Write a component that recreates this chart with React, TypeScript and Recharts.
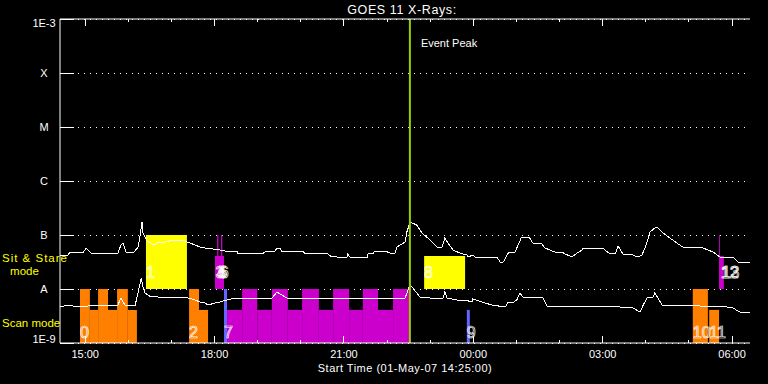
import React from 'react';
import {
  ComposedChart, Line, XAxis, YAxis, CartesianGrid, ReferenceArea, ReferenceLine,
} from 'recharts';

// ---- time axis (hours of 01-May-07, >24 = next day) ----
const START = 14 + 25 / 60;
const END = START + 16;
const hourTicks = [15, 16, 17, 18, 19, 20, 21, 22, 23, 24, 25, 26, 27, 28, 29, 30];
const fluxTicks = [1e-9, 1e-8, 1e-7, 1e-6, 1e-5, 1e-4, 1e-3];
const fluxTickLabels = ['1E-9', 'A', 'B', 'C', 'M', 'X', '1E-3'];
const eventPeak = 22.53;

// ---- GOES 11 long channel (1-8 A) ----
const longTime = [14.42, 14.60, 14.65, 14.95, 15.02, 15.14, 15.76, 15.83, 15.88, 15.95, 16.11, 16.23, 16.27, 16.32, 16.34, 16.39, 16.43, 16.53, 16.57, 16.62, 16.69, 16.74, 16.85, 17.04, 17.25, 17.43, 17.55, 17.66, 17.78, 17.96, 18.13, 18.24, 18.52, 18.54, 19.10, 19.17, 19.40, 19.45, 19.52, 19.56, 20.05, 20.10, 20.63, 20.72, 20.79, 20.84, 21.07, 21.09, 21.14, 21.54, 21.56, 21.67, 21.72, 21.95, 22.07, 22.18, 22.23, 22.42, 22.46, 22.53, 22.58, 22.69, 22.81, 23.00, 23.16, 23.27, 23.34, 23.41, 23.53, 23.69, 23.85, 23.88, 23.99, 24.04, 24.55, 24.62, 24.69, 24.74, 24.81, 24.97, 25.04, 25.11, 25.31, 25.38, 25.59, 25.66, 25.78, 25.94, 26.06, 26.13, 26.29, 26.41, 26.52, 26.54, 27.01, 27.05, 27.17, 27.29, 27.36, 27.47, 27.70, 27.82, 27.91, 27.98, 28.03, 28.10, 28.21, 28.28, 28.40, 28.56, 28.72, 28.86, 29.19, 29.33, 29.44, 29.56, 29.72, 30.02, 30.14, 30.42];
const longFlux = [4.26e-8, 4.26e-8, 4.84e-8, 4.64e-8, 5.74e-8, 4.64e-8, 4.64e-8, 6.53e-8, 7.11e-8, 4.84e-8, 4.64e-8, 5.99e-8, 9.18e-8, 1.74e-7, 1.09e-7, 9.18e-8, 7.74e-8, 7.11e-8, 6.53e-8, 6.53e-8, 7.41e-8, 7.11e-8, 7.41e-8, 8.08e-8, 8.08e-8, 7.11e-8, 6.53e-8, 5.99e-8, 5.74e-8, 5.5e-8, 5.27e-8, 5.05e-8, 5.05e-8, 4.45e-8, 4.45e-8, 4.84e-8, 5.05e-8, 5.74e-8, 5.74e-8, 5.05e-8, 5.05e-8, 4.45e-8, 4.45e-8, 3.91e-8, 4.08e-8, 3.91e-8, 3.91e-8, 4.45e-8, 3.91e-8, 3.91e-8, 4.45e-8, 4.45e-8, 5.05e-8, 5.05e-8, 4.64e-8, 4.45e-8, 5.99e-8, 7.41e-8, 1.14e-7, 1.67e-7, 1.67e-7, 1.53e-7, 1.09e-7, 8.08e-8, 5.99e-8, 5.74e-8, 8.8e-8, 7.11e-8, 5.27e-8, 4.64e-8, 4.26e-8, 3.91e-8, 4.26e-8, 3.91e-8, 3.91e-8, 3.16e-8, 3.16e-8, 3.59e-8, 4.64e-8, 4.84e-8, 6.53e-8, 8.8e-8, 8.8e-8, 7.11e-8, 6.81e-8, 5.74e-8, 5.27e-8, 4.64e-8, 4.84e-8, 4.45e-8, 3.91e-8, 4.64e-8, 5.27e-8, 5.74e-8, 5.74e-8, 5.27e-8, 4.45e-8, 4.45e-8, 6.25e-8, 4.45e-8, 4.26e-8, 3.91e-8, 4.26e-8, 5.74e-8, 7.41e-8, 1.14e-7, 1.35e-7, 1.35e-7, 1.09e-7, 8.8e-8, 7.11e-8, 5.99e-8, 5.99e-8, 5.74e-8, 5.27e-8, 4.84e-8, 3.91e-8, 3.91e-8, 3.16e-8, 3.16e-8];

// ---- GOES 11 short channel (0.5-4 A) ----
const shortTime = [14.42, 14.60, 14.83, 15.07, 15.30, 15.76, 15.83, 15.92, 16.16, 16.23, 16.30, 16.34, 16.39, 16.53, 16.69, 16.85, 17.15, 17.39, 17.55, 17.66, 17.78, 17.85, 18.01, 18.13, 18.20, 18.29, 18.47, 19.33, 19.45, 19.56, 19.68, 22.42, 22.46, 22.53, 22.60, 22.69, 22.76, 23.00, 23.30, 23.34, 23.39, 23.62, 23.81, 23.97, 23.99, 24.20, 24.43, 24.74, 24.81, 24.90, 25.01, 25.08, 25.15, 25.62, 25.71, 26.94, 27.40, 27.70, 27.87, 27.94, 28.03, 28.17, 28.21, 28.28, 28.38, 29.26, 29.88, 30.02, 30.18, 30.42];
const shortFlux = [4.64e-9, 5.05e-9, 4.64e-9, 4.84e-9, 5.05e-9, 5.05e-9, 6.81e-9, 5.05e-9, 5.05e-9, 8.8e-9, 1.6e-8, 1.09e-8, 8.43e-9, 7.11e-9, 7.11e-9, 6.81e-9, 7.11e-9, 6.81e-9, 6.25e-9, 5.74e-9, 5.5e-9, 5.05e-9, 5.5e-9, 5.74e-9, 5.99e-9, 6.25e-9, 6.81e-9, 6.81e-9, 8.8e-9, 7.74e-9, 6.81e-9, 6.81e-9, 8.43e-9, 1.19e-8, 1.04e-8, 8.43e-9, 7.11e-9, 6.81e-9, 6.81e-9, 8.8e-9, 6.81e-9, 6.25e-9, 6.25e-9, 5.74e-9, 6.53e-9, 5.74e-9, 5.05e-9, 4.64e-9, 5.74e-9, 5.5e-9, 6.25e-9, 8.43e-9, 7.11e-9, 6.81e-9, 4.84e-9, 4.84e-9, 4.64e-9, 4.45e-9, 3.75e-9, 5.05e-9, 6.81e-9, 7.11e-9, 8.43e-9, 6.81e-9, 5.05e-9, 4.84e-9, 4.64e-9, 4.45e-9, 3.75e-9, 3.75e-9];

// ---- observing-mode blocks: [start, end, low, high, colour-key] ----
const scanBlocks: [number, number, number, number, string][] = [
  [14.88, 15.11, 1e-9, 1e-8, 'o'], [15.11, 15.30, 1e-9, 4.1e-9, 'o'], [15.30, 15.53, 1e-9, 1e-8, 'o'],
  [15.53, 15.74, 1e-9, 4.1e-9, 'o'], [15.74, 15.99, 1e-9, 1e-8, 'o'], [15.99, 16.20, 1e-9, 4.1e-9, 'o'],
  [17.41, 17.64, 1e-9, 1e-8, 'o'], [17.64, 17.85, 1e-9, 4.1e-9, 'o'],
  [18.22, 18.29, 1e-9, 1e-8, 'b'],
  [18.29, 18.64, 1e-9, 4.1e-9, 'p'], [18.64, 18.99, 1e-9, 1e-8, 'p'], [18.99, 19.33, 1e-9, 4.1e-9, 'p'],
  [19.33, 19.70, 1e-9, 1e-8, 'p'], [19.70, 20.03, 1e-9, 4.1e-9, 'p'], [20.03, 20.42, 1e-9, 1e-8, 'p'],
  [20.42, 20.75, 1e-9, 4.1e-9, 'p'], [20.75, 21.12, 1e-9, 1e-8, 'p'], [21.12, 21.44, 1e-9, 4.1e-9, 'p'],
  [21.44, 21.79, 1e-9, 1e-8, 'p'], [21.79, 22.14, 1e-9, 4.1e-9, 'p'], [22.14, 22.51, 1e-9, 1e-8, 'p'],
  [22.51, 22.53, 1e-9, 4.1e-9, 'p'],
  [23.85, 23.92, 1e-9, 4.1e-9, 'b'],
  [29.09, 29.44, 1e-9, 1e-8, 'o'], [29.47, 29.70, 1e-9, 4.1e-9, 'o'],
];
const sitBlocks: [number, number, number, number, string][] = [
  [16.41, 17.36, 1e-8, 1e-7, 'y'],
  [18.01, 18.22, 1e-8, 4.1e-8, 'p'], [18.06, 18.09, 1e-8, 1e-7, 'p'], [18.15, 18.18, 1e-8, 1e-7, 'p'],
  [22.86, 23.81, 1e-8, 4.1e-8, 'y'],
  [29.70, 29.81, 1e-8, 4.1e-8, 'p'], [29.70, 29.72, 1e-8, 1e-7, 'p'],
];
// ---- block numbers: [time, text, mode] ----
const blockLabels: [number, string, string][] = [
  [14.88, '0', 'scan'], [16.41, '1', 'sit'], [17.41, '2', 'scan'],
  [18.02, '3', 'sit'], [18.06, '4', 'sit'], [18.08, '5', 'sit'], [18.12, '6', 'sit'],
  [18.22, '7', 'scan'], [22.86, '8', 'sit'], [23.85, '9', 'scan'],
  [29.09, '10', 'scan'], [29.47, '11', 'scan'], [29.74, '12', 'sit'], [29.76, '13', 'sit'],
];

const COLORS: Record<string, string> = { o: '#ff8000', p: '#cc00cc', b: '#6464ff', y: '#ffff00' };
const FONT = '"Liberation Sans", Arial, sans-serif';

const longData = longTime.map((t, i) => ({ t, f: longFlux[i] }));
const shortData = shortTime.map((t, i) => ({ t, f: shortFlux[i] }));

const fmtHour = (h: number) => String(h % 24).padStart(2, '0') + ':00';

const BottomTick = (p: any) => {
  const v = p.payload.value;
  const major = v % 3 === 0;
  return (
    <g>
      <line x1={p.x} x2={p.x} y1={p.y} y2={p.y - (major ? 7 : 3)} stroke="#fff" shapeRendering="crispEdges" />
      {major && (
        <text x={p.x} y={p.y + 15} textAnchor="middle" fill="#fff" fontSize={11} fontFamily={FONT}>
          {fmtHour(v)}
        </text>
      )}
    </g>
  );
};
const TopTick = (p: any) => {
  const v = p.payload.value;
  const major = v % 3 === 0;
  return <line x1={p.x} x2={p.x} y1={p.y} y2={p.y + (major ? 7 : 3)} stroke="#fff" shapeRendering="crispEdges" />;
};
const LeftTick = (p: any) => {
  const e = Math.round(Math.log10(p.payload.value));
  const idx = e + 9;
  const dy = e === -3 ? 8 : e === -9 ? 0 : 4;
  return (
    <g>
      <line x1={p.x} x2={p.x + 14} y1={p.y} y2={p.y} stroke="#fff" shapeRendering="crispEdges" />
      <text x={p.x - 16} y={p.y + dy} textAnchor="middle" fill="#fff" fontSize={11} fontFamily={FONT}>
        {fluxTickLabels[idx]}
      </text>
    </g>
  );
};
const RightTick = (p: any) => (
  <line x1={p.x} x2={p.x - 13} y1={p.y} y2={p.y} stroke="#fff" shapeRendering="crispEdges" />
);

const makeNumLabel = (text: string, mode: string) => (props: any) => {
  const vb = props.viewBox;
  const bottom = vb.y + vb.height;
  return (
    <text x={vb.x} y={mode === 'scan' ? bottom - 5 : bottom - 11} fill="none" stroke="#fff" strokeWidth={0.7}
      fontSize={16} fontFamily={FONT}>
      {text}
    </text>
  );
};

const EventLabel = (props: any) => {
  const vb = props.viewBox;
  return (
    <text x={vb.x + 11} y={vb.y + 28} fill="#fff" fontSize={11} fontFamily={FONT}>Event Peak</text>
  );
};

export default function App() {
  const blocks = [...scanBlocks, ...sitBlocks];
  return (
    <div style={{ position: 'fixed', left: 0, top: 0, width: 768, height: 384, background: '#000' }}>
      <ComposedChart width={768} height={384} margin={{ top: 0, right: 18, bottom: 0, left: 0 }}>
        <XAxis type="number" dataKey="t" domain={[START, END]} allowDataOverflow ticks={hourTicks} interval={0}
          height={41} tickSize={0} tickMargin={0} tick={BottomTick} axisLine={{ stroke: '#fff' }} tickLine={false} />
        <XAxis xAxisId="top" orientation="top" type="number" dataKey="t" domain={[START, END]} allowDataOverflow
          ticks={hourTicks} interval={0} height={19} tickSize={0} tickMargin={0} tick={TopTick}
          axisLine={{ stroke: '#fff' }} tickLine={false} />
        <YAxis type="number" scale="log" domain={[1e-9, 1e-3]} allowDataOverflow ticks={fluxTicks} interval={0}
          width={60} tickSize={0} tickMargin={0} tick={LeftTick} axisLine={{ stroke: '#fff' }} tickLine={false} />
        <YAxis yAxisId="r" orientation="right" type="number" scale="log" domain={[1e-9, 1e-3]} allowDataOverflow
          ticks={fluxTicks} interval={0} width={0} tickSize={0} tickMargin={0} tick={RightTick}
          axisLine={{ stroke: '#fff' }} tickLine={false} />
        <CartesianGrid horizontal vertical={false} stroke="#fff" strokeDasharray="1 5" shapeRendering="crispEdges" />
        {blocks.map((b, i) => (
          <ReferenceArea key={'blk' + i} x1={b[0]} x2={b[1]} y1={b[2]} y2={b[3]}
            fill={COLORS[b[4]]} fillOpacity={1} stroke="none" ifOverflow="visible" />
        ))}
        <Line data={longData} dataKey="f" type="linear" stroke="#fff" strokeWidth={1} dot={false}
          isAnimationActive={false} shapeRendering="crispEdges" />
        <Line data={shortData} dataKey="f" type="linear" stroke="#fff" strokeWidth={1} dot={false}
          isAnimationActive={false} shapeRendering="crispEdges" />
        {blockLabels.map((l, i) => (
          <ReferenceArea key={'lbl' + i} x1={l[0]} x2={l[0] + 0.01}
            y1={l[2] === 'scan' ? 1e-9 : 1e-8} y2={l[2] === 'scan' ? 1e-8 : 1e-7}
            fill="none" fillOpacity={0} stroke="none" ifOverflow="visible" label={makeNumLabel(l[1], l[2])} />
        ))}
        <ReferenceLine x={eventPeak} stroke="#9acd00" strokeWidth={2} label={EventLabel} />
      </ComposedChart>
      <svg width={768} height={384} style={{ position: 'absolute', left: 0, top: 0, pointerEvents: 'none' }}>
        <text x={402} y={14} textAnchor="middle" fill="#fff" fontSize={12.5} letterSpacing={0.6} fontFamily={FONT}>
          GOES 11 X-Rays:
        </text>
        <text x={405} y={372} textAnchor="middle" fill="#fff" fontSize={11} letterSpacing={0.5} fontFamily={FONT}>
          Start Time (01-May-07 14:25:00)
        </text>
        <text x={2} y={262} fill="#ffff00" fontSize={11.5} letterSpacing={1} fontFamily={FONT}>Sit &amp; Stare</text>
        <text x={24.5} y={275} textAnchor="middle" fill="#ffff00" fontSize={11.5} fontFamily={FONT}>mode</text>
        <text x={2} y={327} fill="#ffff00" fontSize={11.5} fontFamily={FONT}>Scan mode</text>
      </svg>
    </div>
  );
}
